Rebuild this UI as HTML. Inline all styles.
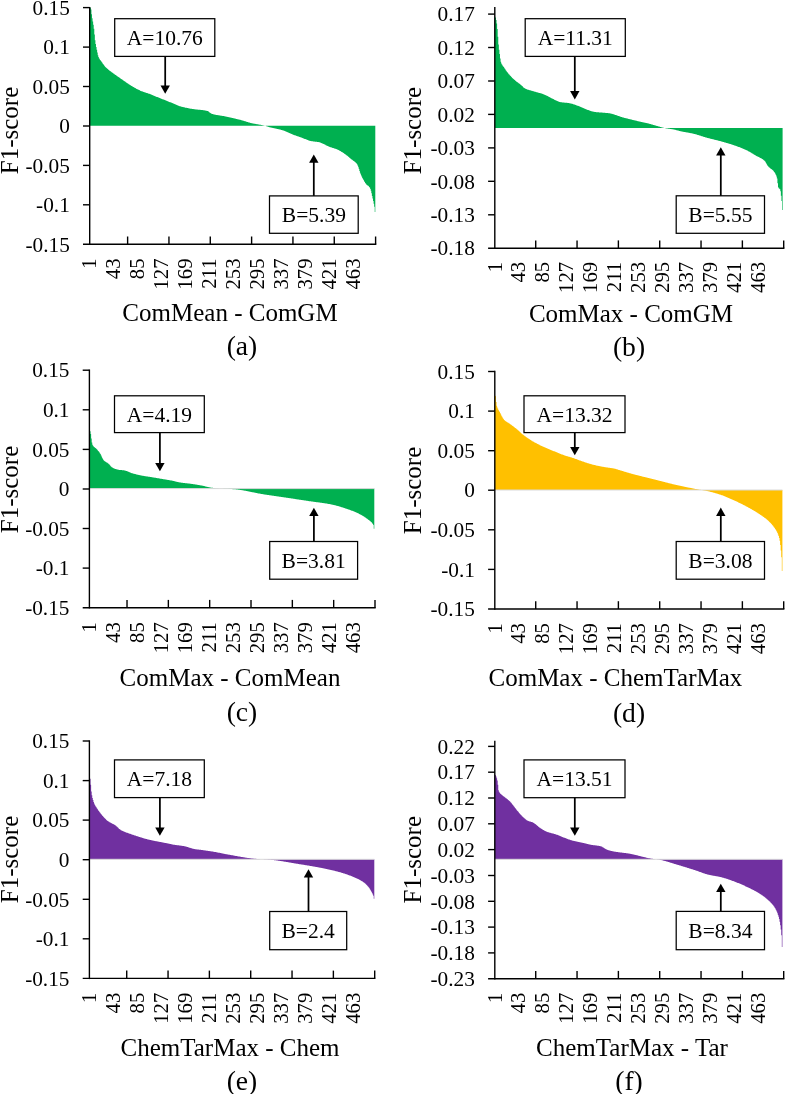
<!DOCTYPE html>
<html><head><meta charset="utf-8"><title>Figure</title>
<style>
html,body{margin:0;padding:0;background:#fff;}
body{width:785px;height:1094px;overflow:hidden;}
svg{display:block;will-change:transform;}
text{font-family:"Liberation Serif",serif;fill:#000;}
</style></head><body>
<svg width="785" height="1094" viewBox="0 0 785 1094">
<rect width="785" height="1094" fill="#fff"/>
<g id="panel-a">
<path d="M89.7,125.7V7.62H90.27V7.75H90.84V9.5H91.41V14.29H91.98V18.25H92.56V21.42H93.13V24.69H93.7V28.67H94.27V34.54H94.84V40.25H95.41V43.99H95.98V47.04H96.55V49.77H97.13V52.55H97.7V55.27H98.27V57.07H98.84V58.27H99.41V59.22H99.98V60.03H100.55V60.77H101.12V61.53H101.7V62.36H102.27V63.19H102.84V64.01H103.41V64.81H103.98V65.56H104.55V66.27H105.12V66.91H105.69V67.49H106.26V68.05H106.84V68.57H107.41V69.06H107.98V69.54H108.55V70H109.12V70.45H109.69V70.89H110.26V71.34H110.83V71.78H111.41V72.21H111.98V72.62H112.55V73.03H113.12V73.44H113.69V73.84H114.26V74.23H114.83V74.63H115.4V75.02H115.98V75.42H116.55V75.82H117.12V76.23H117.69V76.63H118.26V77.04H118.83V77.44H119.4V77.84H119.97V78.24H120.54V78.64H121.12V79.04H121.69V79.44H122.26V79.84H122.83V80.24H123.4V80.64H123.97V81.04H124.54V81.44H125.11V81.84H125.69V82.25H126.26V82.65H126.83V83.04H127.4V83.43H127.97V83.82H128.54V84.2H129.11V84.57H129.68V84.94H130.26V85.3H130.83V85.65H131.4V86.01H131.97V86.36H132.54V86.7H133.11V87.04H133.68V87.37H134.25V87.7H134.82V88.02H135.4V88.33H135.97V88.63H136.54V88.93H137.11V89.23H137.68V89.52H138.25V89.81H138.82V90.09H139.39V90.36H139.97V90.63H140.54V90.89H141.11V91.13H141.68V91.37H142.25V91.59H142.82V91.8H143.39V92H143.96V92.18H144.54V92.36H145.11V92.54H145.68V92.71H146.25V92.89H146.82V93.06H147.39V93.25H147.96V93.44H148.53V93.64H149.1V93.86H149.68V94.08H150.25V94.31H150.82V94.54H151.39V94.78H151.96V95.01H152.53V95.25H153.1V95.49H153.67V95.73H154.25V95.97H154.82V96.2H155.39V96.43H155.96V96.66H156.53V96.88H157.1V97.11H157.67V97.33H158.24V97.56H158.82V97.79H159.39V98.01H159.96V98.24H160.53V98.47H161.1V98.69H161.67V98.92H162.24V99.16H162.81V99.39H163.38V99.62H163.96V99.86H164.53V100.09H165.1V100.32H165.67V100.56H166.24V100.79H166.81V101.02H167.38V101.25H167.95V101.47H168.53V101.7H169.1V101.92H169.67V102.14H170.24V102.36H170.81V102.58H171.38V102.81H171.95V103.03H172.52V103.25H173.1V103.47H173.67V103.7H174.24V103.93H174.81V104.17H175.38V104.43H175.95V104.68H176.52V104.94H177.09V105.2H177.66V105.45H178.24V105.69H178.81V105.92H179.38V106.13H179.95V106.32H180.52V106.49H181.09V106.65H181.66V106.8H182.23V106.95H182.81V107.1H183.38V107.24H183.95V107.37H184.52V107.5H185.09V107.63H185.66V107.75H186.23V107.87H186.8V107.99H187.38V108.1H187.95V108.21H188.52V108.32H189.09V108.42H189.66V108.53H190.23V108.63H190.8V108.73H191.37V108.82H191.94V108.92H192.52V109.02H193.09V109.11H193.66V109.19H194.23V109.27H194.8V109.34H195.37V109.41H195.94V109.47H196.51V109.53H197.09V109.58H197.66V109.64H198.23V109.69H198.8V109.75H199.37V109.8H199.94V109.86H200.51V109.92H201.08V109.98H201.66V110.04H202.23V110.11H202.8V110.19H203.37V110.27H203.94V110.36H204.51V110.45H205.08V110.55H205.65V110.67H206.22V110.79H206.8V110.92H207.37V111.08H207.94V111.35H208.51V111.73H209.08V112.17H209.65V112.63H210.22V113.08H210.79V113.46H211.37V113.75H211.94V113.93H212.51V114.1H213.08V114.26H213.65V114.41H214.22V114.54H214.79V114.67H215.36V114.79H215.94V114.9H216.51V115H217.08V115.1H217.65V115.19H218.22V115.28H218.79V115.37H219.36V115.46H219.93V115.55H220.5V115.63H221.08V115.72H221.65V115.81H222.22V115.91H222.79V116.01H223.36V116.11H223.93V116.22H224.5V116.34H225.07V116.46H225.65V116.58H226.22V116.7H226.79V116.82H227.36V116.95H227.93V117.07H228.5V117.19H229.07V117.32H229.64V117.44H230.22V117.57H230.79V117.7H231.36V117.82H231.93V117.95H232.5V118.08H233.07V118.21H233.64V118.34H234.21V118.48H234.78V118.61H235.36V118.74H235.93V118.88H236.5V119.02H237.07V119.16H237.64V119.3H238.21V119.44H238.78V119.58H239.35V119.72H239.93V119.87H240.5V120.02H241.07V120.17H241.64V120.32H242.21V120.49H242.78V120.65H243.35V120.83H243.92V121H244.5V121.18H245.07V121.36H245.64V121.54H246.21V121.72H246.78V121.9H247.35V122.08H247.92V122.26H248.49V122.43H249.06V122.59H249.64V122.75H250.21V122.9H250.78V123.04H251.35V123.18H251.92V123.31H252.49V123.43H253.06V123.54H253.63V123.66H254.21V123.77H254.78V123.87H255.35V123.97H255.92V124.07H256.49V124.17H257.06V124.27H257.63V124.37H258.2V124.46H258.78V124.56H259.35V124.66H259.92V124.76H260.49V124.87H261.06V124.97H261.63V125.08H262.2V125.2H262.77V125.32H263.34V125.45H263.92V125.58H264.49V125.72H265.06V125.87H265.63V126.05H266.2V126.24H266.77V126.43H267.34V126.62H267.91V126.81H268.49V126.98H269.06V127.14H269.63V127.28H270.2V127.42H270.77V127.54H271.34V127.67H271.91V127.79H272.48V127.91H273.06V128.03H273.63V128.15H274.2V128.28H274.77V128.41H275.34V128.55H275.91V128.68H276.48V128.81H277.05V128.94H277.62V129.07H278.2V129.2H278.77V129.34H279.34V129.47H279.91V129.62H280.48V129.76H281.05V129.91H281.62V130.07H282.19V130.24H282.77V130.42H283.34V130.61H283.91V130.81H284.48V131.03H285.05V131.26H285.62V131.51H286.19V131.76H286.76V132.02H287.34V132.28H287.91V132.54H288.48V132.81H289.05V133.08H289.62V133.34H290.19V133.6H290.76V133.85H291.33V134.09H291.9V134.32H292.48V134.54H293.05V134.75H293.62V134.96H294.19V135.17H294.76V135.37H295.33V135.57H295.9V135.77H296.47V135.97H297.05V136.16H297.62V136.35H298.19V136.55H298.76V136.74H299.33V136.94H299.9V137.13H300.47V137.33H301.04V137.53H301.62V137.74H302.19V137.95H302.76V138.17H303.33V138.4H303.9V138.64H304.47V138.88H305.04V139.12H305.61V139.36H306.18V139.6H306.76V139.83H307.33V140.05H307.9V140.26H308.47V140.46H309.04V140.64H309.61V140.81H310.18V140.96H310.75V141.09H311.33V141.2H311.9V141.29H312.47V141.37H313.04V141.44H313.61V141.51H314.18V141.57H314.75V141.63H315.32V141.69H315.9V141.76H316.47V141.82H317.04V141.9H317.61V141.98H318.18V142.08H318.75V142.19H319.32V142.32H319.89V142.48H320.46V142.68H321.04V142.9H321.61V143.14H322.18V143.41H322.75V143.68H323.32V143.97H323.89V144.27H324.46V144.57H325.03V144.87H325.61V145.17H326.18V145.47H326.75V145.75H327.32V146.02H327.89V146.27H328.46V146.5H329.03V146.72H329.6V146.92H330.18V147.13H330.75V147.32H331.32V147.51H331.89V147.7H332.46V147.88H333.03V148.07H333.6V148.26H334.17V148.45H334.74V148.65H335.32V148.86H335.89V149.08H336.46V149.3H337.03V149.54H337.6V149.79H338.17V150.06H338.74V150.35H339.31V150.65H339.89V150.97H340.46V151.3H341.03V151.65H341.6V152H342.17V152.37H342.74V152.74H343.31V153.12H343.88V153.51H344.46V153.9H345.03V154.3H345.6V154.72H346.17V155.16H346.74V155.61H347.31V156.07H347.88V156.54H348.45V157.02H349.02V157.5H349.6V157.98H350.17V158.47H350.74V158.95H351.31V159.42H351.88V159.86H352.45V160.27H353.02V160.67H353.59V161.08H354.17V161.51H354.74V161.98H355.31V162.5H355.88V163.08H356.45V163.75H357.02V164.51H357.59V165.63H358.16V167.23H358.74V169.08H359.31V171H359.88V172.77H360.45V174.21H361.02V175.48H361.59V176.72H362.16V177.91H362.73V179.04H363.3V180.12H363.88V181.13H364.45V182.08H365.02V182.95H365.59V183.74H366.16V184.42H366.73V184.95H367.3V185.4H367.87V185.84H368.45V186.32H369.02V186.92H369.59V187.7H370.16V188.91H370.73V190.87H371.3V193.31H371.87V195.93H372.44V198.46H373.02V201.02H373.59V203.78H374.16V206.78H374.73V212H375.3V125.7Z" fill="#00B050"/>
<g stroke="#000" stroke-width="1.4" fill="none">
<line x1="89.7" y1="6.9" x2="89.7" y2="245"/>
<line x1="83" y1="244.3" x2="376.3" y2="244.3"/>
<line x1="83" y1="7.6" x2="89.7" y2="7.6"/>
<line x1="83" y1="47.1" x2="89.7" y2="47.1"/>
<line x1="83" y1="86.5" x2="89.7" y2="86.5"/>
<line x1="83" y1="126" x2="89.7" y2="126"/>
<line x1="83" y1="165.4" x2="89.7" y2="165.4"/>
<line x1="83" y1="204.8" x2="89.7" y2="204.8"/>
<line x1="375.6" y1="236.5" x2="375.6" y2="244.3"/>
<line x1="334.27" y1="236.5" x2="334.27" y2="244.3"/>
<line x1="292.94" y1="236.5" x2="292.94" y2="244.3"/>
<line x1="251.61" y1="236.5" x2="251.61" y2="244.3"/>
<line x1="210.28" y1="236.5" x2="210.28" y2="244.3"/>
<line x1="168.95" y1="236.5" x2="168.95" y2="244.3"/>
<line x1="127.62" y1="236.5" x2="127.62" y2="244.3"/>
</g>
<text x="69.8" y="14.8" font-size="21.3" text-anchor="end">0.15</text>
<text x="69.8" y="54.3" font-size="21.3" text-anchor="end">0.1</text>
<text x="69.8" y="93.7" font-size="21.3" text-anchor="end">0.05</text>
<text x="69.8" y="133.2" font-size="21.3" text-anchor="end">0</text>
<text x="69.8" y="172.6" font-size="21.3" text-anchor="end">-0.05</text>
<text x="69.8" y="212" font-size="21.3" text-anchor="end">-0.1</text>
<text x="69.8" y="251.5" font-size="21.3" text-anchor="end">-0.15</text>
<text transform="translate(96.4,258.5) rotate(-90)" font-size="20.7" text-anchor="end">1</text>
<text transform="translate(120.37,258.5) rotate(-90)" font-size="20.7" text-anchor="end">43</text>
<text transform="translate(144.34,258.5) rotate(-90)" font-size="20.7" text-anchor="end">85</text>
<text transform="translate(168.31,258.5) rotate(-90)" font-size="20.7" text-anchor="end">127</text>
<text transform="translate(192.28,258.5) rotate(-90)" font-size="20.7" text-anchor="end">169</text>
<text transform="translate(216.25,258.5) rotate(-90)" font-size="20.7" text-anchor="end">211</text>
<text transform="translate(240.22,258.5) rotate(-90)" font-size="20.7" text-anchor="end">253</text>
<text transform="translate(264.19,258.5) rotate(-90)" font-size="20.7" text-anchor="end">295</text>
<text transform="translate(288.16,258.5) rotate(-90)" font-size="20.7" text-anchor="end">337</text>
<text transform="translate(312.13,258.5) rotate(-90)" font-size="20.7" text-anchor="end">379</text>
<text transform="translate(336.1,258.5) rotate(-90)" font-size="20.7" text-anchor="end">421</text>
<text transform="translate(360.07,258.5) rotate(-90)" font-size="20.7" text-anchor="end">463</text>
<text transform="translate(17.7,130.5) rotate(-90)" font-size="25" text-anchor="middle">F1-score</text>
<text x="230" y="320.6" font-size="25" text-anchor="middle">ComMean - ComGM</text>
<text x="242" y="355.1" font-size="27.6" text-anchor="middle">(a)</text>
<rect x="114.7" y="18.7" width="100.1" height="37.7" fill="#fff" stroke="#000" stroke-width="1.25"/>
<text x="164.75" y="44.95" font-size="21.5" text-anchor="middle">A=10.76</text>
<line x1="165.2" y1="56.4" x2="165.2" y2="86.5" stroke="#000" stroke-width="1.75"/>
<path d="M160.5,85.5 L169.9,85.5 L165.2,93.8Z" fill="#000"/>
<rect x="269.5" y="195.9" width="88.7" height="37.4" fill="#fff" stroke="#000" stroke-width="1.25"/>
<text x="313.85" y="222" font-size="21.5" text-anchor="middle">B=5.39</text>
<line x1="313.8" y1="195.9" x2="313.8" y2="161.8" stroke="#000" stroke-width="1.75"/>
<path d="M309.1,162.8 L318.5,162.8 L313.8,154.5Z" fill="#000"/>
</g>
<g id="panel-b">
<path d="M494.8,127.9V16.67H495.38V17.67H495.95V20H496.53V23.42H497.1V29.06H497.68V36.67H498.25V44.44H498.83V49.71H499.4V54.09H499.98V58.41H500.56V61.75H501.13V63.39H501.71V64.55H502.28V65.46H502.86V66.23H503.43V66.99H504.01V67.85H504.59V68.72H505.16V69.57H505.74V70.4H506.31V71.2H506.89V71.99H507.46V72.74H508.04V73.47H508.61V74.17H509.19V74.84H509.77V75.48H510.34V76.12H510.92V76.73H511.49V77.33H512.07V77.91H512.64V78.47H513.22V79.02H513.79V79.55H514.37V80.07H514.95V80.57H515.52V81.06H516.1V81.52H516.67V81.95H517.25V82.37H517.82V82.77H518.4V83.18H518.98V83.59H519.55V84.01H520.13V84.45H520.7V84.93H521.28V85.46H521.85V86.01H522.43V86.58H523V87.13H523.58V87.63H524.16V88.07H524.73V88.41H525.31V88.69H525.88V88.95H526.46V89.19H527.03V89.42H527.61V89.63H528.18V89.82H528.76V90.01H529.34V90.19H529.91V90.35H530.49V90.52H531.06V90.68H531.64V90.83H532.21V90.99H532.79V91.15H533.37V91.32H533.94V91.49H534.52V91.66H535.09V91.84H535.67V92H536.24V92.16H536.82V92.32H537.39V92.47H537.97V92.63H538.55V92.78H539.12V92.94H539.7V93.09H540.27V93.26H540.85V93.42H541.42V93.6H542V93.78H542.57V93.97H543.15V94.18H543.73V94.4H544.3V94.63H544.88V94.89H545.45V95.15H546.03V95.43H546.6V95.72H547.18V96.02H547.76V96.33H548.33V96.64H548.91V96.95H549.48V97.26H550.06V97.58H550.63V97.89H551.21V98.2H551.78V98.5H552.36V98.79H552.94V99.07H553.51V99.35H554.09V99.63H554.66V99.92H555.24V100.22H555.81V100.52H556.39V100.81H556.96V101.09H557.54V101.36H558.12V101.6H558.69V101.81H559.27V101.98H559.84V102.11H560.42V102.2H560.99V102.29H561.57V102.37H562.15V102.43H562.72V102.49H563.3V102.54H563.87V102.59H564.45V102.64H565.02V102.69H565.6V102.73H566.17V102.79H566.75V102.84H567.33V102.91H567.9V102.98H568.48V103.06H569.05V103.16H569.63V103.27H570.2V103.39H570.78V103.53H571.35V103.68H571.93V103.85H572.51V104.02H573.08V104.2H573.66V104.39H574.23V104.58H574.81V104.78H575.38V104.99H575.96V105.2H576.54V105.41H577.11V105.63H577.69V105.84H578.26V106.06H578.84V106.27H579.41V106.49H579.99V106.73H580.56V106.98H581.14V107.23H581.72V107.5H582.29V107.76H582.87V108.02H583.44V108.28H584.02V108.52H584.59V108.75H585.17V108.98H585.74V109.2H586.32V109.43H586.9V109.66H587.47V109.89H588.05V110.12H588.62V110.34H589.2V110.56H589.77V110.77H590.35V110.97H590.93V111.15H591.5V111.32H592.08V111.48H592.65V111.62H593.23V111.73H593.8V111.83H594.38V111.92H594.95V111.99H595.53V112.07H596.11V112.13H596.68V112.2H597.26V112.25H597.83V112.31H598.41V112.36H598.98V112.4H599.56V112.45H600.13V112.49H600.71V112.53H601.29V112.57H601.86V112.61H602.44V112.65H603.01V112.69H603.59V112.74H604.16V112.78H604.74V112.83H605.32V112.88H605.89V112.93H606.47V112.99H607.04V113.06H607.62V113.12H608.19V113.2H608.77V113.28H609.34V113.37H609.92V113.47H610.5V113.59H611.07V113.72H611.65V113.86H612.22V114.02H612.8V114.18H613.37V114.35H613.95V114.53H614.52V114.72H615.1V114.91H615.68V115.1H616.25V115.3H616.83V115.5H617.4V115.7H617.98V115.91H618.55V116.11H619.13V116.31H619.71V116.51H620.28V116.7H620.86V116.89H621.43V117.07H622.01V117.24H622.58V117.41H623.16V117.57H623.73V117.72H624.31V117.88H624.89V118.03H625.46V118.18H626.04V118.33H626.61V118.48H627.19V118.62H627.76V118.77H628.34V118.91H628.91V119.06H629.49V119.2H630.07V119.34H630.64V119.48H631.22V119.62H631.79V119.76H632.37V119.9H632.94V120.04H633.52V120.18H634.1V120.31H634.67V120.45H635.25V120.59H635.82V120.73H636.4V120.86H636.97V121H637.55V121.13H638.12V121.26H638.7V121.38H639.28V121.51H639.85V121.64H640.43V121.76H641V121.89H641.58V122.01H642.15V122.14H642.73V122.27H643.3V122.39H643.88V122.52H644.46V122.65H645.03V122.78H645.61V122.91H646.18V123.05H646.76V123.19H647.33V123.33H647.91V123.47H648.49V123.62H649.06V123.77H649.64V123.93H650.21V124.09H650.79V124.26H651.36V124.43H651.94V124.6H652.51V124.77H653.09V124.94H653.67V125.11H654.24V125.29H654.82V125.46H655.39V125.62H655.97V125.79H656.54V125.95H657.12V126.12H657.69V126.29H658.27V126.45H658.85V126.62H659.42V126.79H660V126.96H660.57V127.12H661.15V127.28H661.72V127.43H662.3V127.58H662.88V127.71H663.45V127.84H664.03V127.96H664.6V128.08H665.18V128.18H665.75V128.28H666.33V128.38H666.9V128.47H667.48V128.56H668.06V128.64H668.63V128.73H669.21V128.81H669.78V128.9H670.36V128.98H670.93V129.07H671.51V129.16H672.08V129.26H672.66V129.36H673.24V129.47H673.81V129.58H674.39V129.7H674.96V129.84H675.54V129.99H676.11V130.14H676.69V130.3H677.27V130.46H677.84V130.62H678.42V130.78H678.99V130.93H679.57V131.07H680.14V131.2H680.72V131.32H681.29V131.44H681.87V131.56H682.45V131.67H683.02V131.78H683.6V131.88H684.17V131.99H684.75V132.09H685.32V132.19H685.9V132.29H686.47V132.4H687.05V132.5H687.63V132.6H688.2V132.7H688.78V132.81H689.35V132.91H689.93V133.02H690.5V133.14H691.08V133.25H691.66V133.37H692.23V133.5H692.81V133.63H693.38V133.76H693.96V133.91H694.53V134.06H695.11V134.21H695.68V134.37H696.26V134.54H696.84V134.71H697.41V134.88H697.99V135.06H698.56V135.24H699.14V135.42H699.71V135.6H700.29V135.79H700.86V135.97H701.44V136.16H702.02V136.34H702.59V136.52H703.17V136.71H703.74V136.88H704.32V137.06H704.89V137.23H705.47V137.4H706.05V137.57H706.62V137.73H707.2V137.89H707.77V138.04H708.35V138.19H708.92V138.34H709.5V138.49H710.07V138.63H710.65V138.78H711.23V138.92H711.8V139.06H712.38V139.21H712.95V139.35H713.53V139.49H714.1V139.63H714.68V139.77H715.25V139.92H715.83V140.06H716.41V140.2H716.98V140.35H717.56V140.5H718.13V140.65H718.71V140.8H719.28V140.96H719.86V141.11H720.44V141.27H721.01V141.43H721.59V141.59H722.16V141.75H722.74V141.91H723.31V142.07H723.89V142.24H724.46V142.4H725.04V142.56H725.62V142.73H726.19V142.9H726.77V143.07H727.34V143.24H727.92V143.41H728.49V143.58H729.07V143.76H729.64V143.94H730.22V144.12H730.8V144.3H731.37V144.49H731.95V144.68H732.52V144.87H733.1V145.06H733.67V145.26H734.25V145.46H734.83V145.66H735.4V145.86H735.98V146.06H736.55V146.27H737.13V146.48H737.7V146.69H738.28V146.9H738.85V147.12H739.43V147.34H740.01V147.56H740.58V147.79H741.16V148.02H741.73V148.25H742.31V148.49H742.88V148.73H743.46V148.97H744.03V149.22H744.61V149.48H745.19V149.74H745.76V150H746.34V150.27H746.91V150.55H747.49V150.83H748.06V151.13H748.64V151.45H749.22V151.77H749.79V152.1H750.37V152.44H750.94V152.78H751.52V153.13H752.09V153.49H752.67V153.84H753.24V154.19H753.82V154.55H754.4V154.9H754.97V155.24H755.55V155.59H756.12V155.92H756.7V156.24H757.27V156.53H757.85V156.82H758.42V157.1H759V157.37H759.58V157.65H760.15V157.94H760.73V158.25H761.3V158.57H761.88V158.91H762.45V159.29H763.03V159.7H763.61V160.15H764.18V160.66H764.76V161.35H765.33V162.22H765.91V163.19H766.48V164.2H767.06V165.17H767.63V166.03H768.21V166.72H768.79V167.29H769.36V167.78H769.94V168.23H770.51V168.65H771.09V169.08H771.66V169.53H772.24V170.04H772.81V170.62H773.39V171.3H773.97V172.04H774.54V172.87H775.12V173.84H775.69V175.04H776.27V176.52H776.84V178.5H777.42V183.24H778V187.16H778.57V188.13H779.15V188.65H779.72V189.31H780.3V191.16H780.87V195.8H781.45V200.91H782.02V210H782.6V127.9Z" fill="#00B050"/>
<g stroke="#000" stroke-width="1.4" fill="none">
<line x1="494.8" y1="7.1" x2="494.8" y2="248.9"/>
<line x1="488.1" y1="248.2" x2="784.4" y2="248.2"/>
<line x1="488.1" y1="14.1" x2="494.8" y2="14.1"/>
<line x1="488.1" y1="47.5" x2="494.8" y2="47.5"/>
<line x1="488.1" y1="81" x2="494.8" y2="81"/>
<line x1="488.1" y1="114.4" x2="494.8" y2="114.4"/>
<line x1="488.1" y1="147.9" x2="494.8" y2="147.9"/>
<line x1="488.1" y1="181.3" x2="494.8" y2="181.3"/>
<line x1="488.1" y1="214.8" x2="494.8" y2="214.8"/>
<line x1="783.7" y1="240.4" x2="783.7" y2="248.2"/>
<line x1="742.37" y1="240.4" x2="742.37" y2="248.2"/>
<line x1="701.04" y1="240.4" x2="701.04" y2="248.2"/>
<line x1="659.71" y1="240.4" x2="659.71" y2="248.2"/>
<line x1="618.38" y1="240.4" x2="618.38" y2="248.2"/>
<line x1="577.05" y1="240.4" x2="577.05" y2="248.2"/>
<line x1="535.72" y1="240.4" x2="535.72" y2="248.2"/>
</g>
<text x="474.9" y="21.3" font-size="21.3" text-anchor="end">0.17</text>
<text x="474.9" y="54.7" font-size="21.3" text-anchor="end">0.12</text>
<text x="474.9" y="88.2" font-size="21.3" text-anchor="end">0.07</text>
<text x="474.9" y="121.6" font-size="21.3" text-anchor="end">0.02</text>
<text x="474.9" y="155.1" font-size="21.3" text-anchor="end">-0.03</text>
<text x="474.9" y="188.5" font-size="21.3" text-anchor="end">-0.08</text>
<text x="474.9" y="222" font-size="21.3" text-anchor="end">-0.13</text>
<text x="474.9" y="255.4" font-size="21.3" text-anchor="end">-0.18</text>
<text transform="translate(501.5,261.9) rotate(-90)" font-size="20.7" text-anchor="end">1</text>
<text transform="translate(525.47,261.9) rotate(-90)" font-size="20.7" text-anchor="end">43</text>
<text transform="translate(549.44,261.9) rotate(-90)" font-size="20.7" text-anchor="end">85</text>
<text transform="translate(573.41,261.9) rotate(-90)" font-size="20.7" text-anchor="end">127</text>
<text transform="translate(597.38,261.9) rotate(-90)" font-size="20.7" text-anchor="end">169</text>
<text transform="translate(621.35,261.9) rotate(-90)" font-size="20.7" text-anchor="end">211</text>
<text transform="translate(645.32,261.9) rotate(-90)" font-size="20.7" text-anchor="end">253</text>
<text transform="translate(669.29,261.9) rotate(-90)" font-size="20.7" text-anchor="end">295</text>
<text transform="translate(693.26,261.9) rotate(-90)" font-size="20.7" text-anchor="end">337</text>
<text transform="translate(717.23,261.9) rotate(-90)" font-size="20.7" text-anchor="end">379</text>
<text transform="translate(741.2,261.9) rotate(-90)" font-size="20.7" text-anchor="end">421</text>
<text transform="translate(765.17,261.9) rotate(-90)" font-size="20.7" text-anchor="end">463</text>
<text transform="translate(420.7,130.6) rotate(-90)" font-size="25" text-anchor="middle">F1-score</text>
<text x="631" y="321.5" font-size="25" text-anchor="middle">ComMax - ComGM</text>
<text x="629" y="355.6" font-size="27.6" text-anchor="middle">(b)</text>
<rect x="525.2" y="18.7" width="100.1" height="37.7" fill="#fff" stroke="#000" stroke-width="1.25"/>
<text x="575.25" y="44.95" font-size="21.5" text-anchor="middle">A=11.31</text>
<line x1="574.8" y1="56.4" x2="574.8" y2="92.1" stroke="#000" stroke-width="1.75"/>
<path d="M570.1,91.1 L579.5,91.1 L574.8,99.4Z" fill="#000"/>
<rect x="676.2" y="195.8" width="88.3" height="37.5" fill="#fff" stroke="#000" stroke-width="1.25"/>
<text x="720.35" y="221.95" font-size="21.5" text-anchor="middle">B=5.55</text>
<line x1="720.8" y1="195.8" x2="720.8" y2="154.6" stroke="#000" stroke-width="1.75"/>
<path d="M716.1,155.6 L725.5,155.6 L720.8,147.3Z" fill="#000"/>
</g>
<g id="panel-c">
<path d="M89.4,488.6V430.8H89.97V431.16H90.54V434.03H91.11V438.38H91.68V442.54H92.25V444.86H92.82V445.77H93.39V446.46H93.96V447.01H94.53V447.47H95.1V447.9H95.67V448.36H96.24V448.91H96.81V449.56H97.38V450.21H97.95V450.89H98.52V451.6H99.09V452.35H99.66V453.16H100.23V454.12H100.8V455.25H101.37V456.46H101.94V457.67H102.51V458.81H103.08V459.79H103.65V460.53H104.21V461.05H104.78V461.47H105.35V461.83H105.92V462.15H106.49V462.47H107.06V462.8H107.63V463.19H108.2V463.65H108.77V464.21H109.34V464.85H109.91V465.51H110.48V466.16H111.05V466.75H111.62V467.24H112.19V467.6H112.76V467.9H113.33V468.19H113.9V468.45H114.47V468.7H115.04V468.92H115.61V469.12H116.18V469.3H116.75V469.46H117.32V469.6H117.89V469.71H118.46V469.81H119.03V469.89H119.6V469.96H120.17V470.02H120.74V470.07H121.31V470.12H121.88V470.17H122.45V470.23H123.02V470.29H123.59V470.37H124.16V470.45H124.73V470.56H125.3V470.71H125.87V470.89H126.44V471.1H127.01V471.32H127.58V471.57H128.15V471.82H128.72V472.07H129.29V472.31H129.86V472.55H130.43V472.77H131V472.96H131.57V473.14H132.13V473.31H132.7V473.47H133.27V473.63H133.84V473.79H134.41V473.95H134.98V474.1H135.55V474.25H136.12V474.4H136.69V474.54H137.26V474.68H137.83V474.81H138.4V474.95H138.97V475.07H139.54V475.2H140.11V475.32H140.68V475.43H141.25V475.55H141.82V475.65H142.39V475.76H142.96V475.86H143.53V475.95H144.1V476.05H144.67V476.14H145.24V476.23H145.81V476.32H146.38V476.4H146.95V476.49H147.52V476.57H148.09V476.66H148.66V476.74H149.23V476.83H149.8V476.92H150.37V477.01H150.94V477.1H151.51V477.2H152.08V477.29H152.65V477.39H153.22V477.49H153.79V477.58H154.36V477.68H154.93V477.78H155.5V477.87H156.07V477.97H156.64V478.07H157.21V478.16H157.78V478.26H158.35V478.36H158.92V478.46H159.49V478.56H160.06V478.65H160.62V478.75H161.19V478.85H161.76V478.94H162.33V479.04H162.9V479.13H163.47V479.23H164.04V479.32H164.61V479.42H165.18V479.51H165.75V479.61H166.32V479.7H166.89V479.8H167.46V479.9H168.03V480H168.6V480.1H169.17V480.2H169.74V480.3H170.31V480.41H170.88V480.51H171.45V480.62H172.02V480.74H172.59V480.87H173.16V480.99H173.73V481.12H174.3V481.25H174.87V481.39H175.44V481.52H176.01V481.65H176.58V481.78H177.15V481.91H177.72V482.04H178.29V482.16H178.86V482.27H179.43V482.38H180V482.48H180.57V482.58H181.14V482.66H181.71V482.74H182.28V482.82H182.85V482.89H183.42V482.96H183.99V483.03H184.56V483.09H185.13V483.16H185.7V483.22H186.27V483.28H186.84V483.34H187.41V483.4H187.98V483.46H188.55V483.53H189.12V483.6H189.68V483.66H190.25V483.74H190.82V483.82H191.39V483.89H191.96V483.98H192.53V484.06H193.1V484.14H193.67V484.23H194.24V484.32H194.81V484.41H195.38V484.5H195.95V484.59H196.52V484.69H197.09V484.78H197.66V484.88H198.23V484.98H198.8V485.08H199.37V485.18H199.94V485.28H200.51V485.38H201.08V485.49H201.65V485.6H202.22V485.72H202.79V485.84H203.36V485.97H203.93V486.11H204.5V486.24H205.07V486.38H205.64V486.52H206.21V486.66H206.78V486.79H207.35V486.93H207.92V487.06H208.49V487.18H209.06V487.31H209.63V487.42H210.2V487.53H210.77V487.63H211.34V487.72H211.91V487.8H212.48V487.87H213.05V487.93H213.62V487.99H214.19V488.04H214.76V488.1H215.33V488.14H215.9V488.19H216.47V488.23H217.04V488.28H217.6V488.31H218.17V488.35H218.74V488.39H219.31V488.42H219.88V488.46H220.45V488.49H221.02V488.52H221.59V488.55H222.16V488.58H222.73V488.61H223.3V488.64H223.87V488.66H224.44V488.69H225.01V488.72H225.58V488.74H226.15V488.77H226.72V488.8H227.29V488.83H227.86V488.86H228.43V488.89H229V488.92H229.57V488.95H230.14V488.98H230.71V489.02H231.28V489.05H231.85V489.09H232.42V489.13H232.99V489.17H233.56V489.21H234.13V489.26H234.7V489.31H235.27V489.36H235.84V489.41H236.41V489.47H236.98V489.53H237.55V489.6H238.12V489.67H238.69V489.74H239.26V489.82H239.83V489.9H240.4V489.98H240.97V490.07H241.54V490.16H242.11V490.25H242.68V490.35H243.25V490.45H243.82V490.55H244.39V490.65H244.96V490.76H245.53V490.87H246.09V490.98H246.66V491.09H247.23V491.2H247.8V491.32H248.37V491.43H248.94V491.55H249.51V491.66H250.08V491.78H250.65V491.9H251.22V492.02H251.79V492.13H252.36V492.25H252.93V492.37H253.5V492.49H254.07V492.61H254.64V492.72H255.21V492.84H255.78V492.95H256.35V493.07H256.92V493.18H257.49V493.29H258.06V493.4H258.63V493.51H259.2V493.61H259.77V493.72H260.34V493.82H260.91V493.92H261.48V494.01H262.05V494.11H262.62V494.2H263.19V494.29H263.76V494.38H264.33V494.47H264.9V494.56H265.47V494.64H266.04V494.73H266.61V494.82H267.18V494.9H267.75V494.99H268.32V495.07H268.89V495.16H269.46V495.24H270.03V495.33H270.6V495.41H271.17V495.49H271.74V495.58H272.31V495.66H272.88V495.74H273.45V495.82H274.02V495.9H274.59V495.99H275.15V496.07H275.72V496.15H276.29V496.23H276.86V496.31H277.43V496.39H278V496.48H278.57V496.56H279.14V496.64H279.71V496.72H280.28V496.8H280.85V496.89H281.42V496.97H281.99V497.05H282.56V497.14H283.13V497.22H283.7V497.3H284.27V497.39H284.84V497.47H285.41V497.56H285.98V497.65H286.55V497.73H287.12V497.82H287.69V497.9H288.26V497.99H288.83V498.08H289.4V498.16H289.97V498.25H290.54V498.34H291.11V498.43H291.68V498.51H292.25V498.6H292.82V498.69H293.39V498.78H293.96V498.86H294.53V498.95H295.1V499.04H295.67V499.13H296.24V499.21H296.81V499.3H297.38V499.39H297.95V499.48H298.52V499.56H299.09V499.65H299.66V499.74H300.23V499.83H300.8V499.92H301.37V500H301.94V500.09H302.51V500.18H303.07V500.26H303.64V500.35H304.21V500.44H304.78V500.53H305.35V500.61H305.92V500.7H306.49V500.79H307.06V500.87H307.63V500.96H308.2V501.04H308.77V501.13H309.34V501.21H309.91V501.29H310.48V501.37H311.05V501.45H311.62V501.53H312.19V501.61H312.76V501.69H313.33V501.76H313.9V501.84H314.47V501.91H315.04V501.99H315.61V502.06H316.18V502.14H316.75V502.21H317.32V502.29H317.89V502.36H318.46V502.44H319.03V502.52H319.6V502.59H320.17V502.67H320.74V502.75H321.31V502.83H321.88V502.91H322.45V502.99H323.02V503.07H323.59V503.16H324.16V503.25H324.73V503.33H325.3V503.42H325.87V503.51H326.44V503.61H327.01V503.7H327.58V503.8H328.15V503.9H328.72V504H329.29V504.11H329.86V504.21H330.43V504.32H331V504.44H331.56V504.55H332.13V504.68H332.7V504.8H333.27V504.93H333.84V505.07H334.41V505.21H334.98V505.35H335.55V505.5H336.12V505.65H336.69V505.8H337.26V505.96H337.83V506.12H338.4V506.29H338.97V506.45H339.54V506.62H340.11V506.79H340.68V506.97H341.25V507.15H341.82V507.33H342.39V507.51H342.96V507.69H343.53V507.87H344.1V508.06H344.67V508.25H345.24V508.44H345.81V508.63H346.38V508.82H346.95V509.01H347.52V509.21H348.09V509.4H348.66V509.6H349.23V509.8H349.8V510.01H350.37V510.22H350.94V510.43H351.51V510.65H352.08V510.87H352.65V511.09H353.22V511.32H353.79V511.56H354.36V511.79H354.93V512.04H355.5V512.29H356.07V512.54H356.64V512.8H357.21V513.07H357.78V513.34H358.35V513.62H358.92V513.9H359.49V514.19H360.05V514.49H360.62V514.8H361.19V515.11H361.76V515.44H362.33V515.77H362.9V516.11H363.47V516.47H364.04V516.83H364.61V517.21H365.18V517.59H365.75V517.99H366.32V518.4H366.89V518.82H367.46V519.26H368.03V519.69H368.6V520.12H369.17V520.55H369.74V520.99H370.31V521.47H370.88V522H371.45V522.6H372.02V523.27H372.59V524.03H373.16V524.91H373.73V528.8H374.3V488.6Z" fill="#00B050"/>
<line x1="89.4" y1="488.6" x2="374.3" y2="488.6" stroke="#d9d9d9" stroke-width="1"/>
<g stroke="#000" stroke-width="1.4" fill="none">
<line x1="89.4" y1="369.5" x2="89.4" y2="608.4"/>
<line x1="82.7" y1="607.7" x2="375.7" y2="607.7"/>
<line x1="82.7" y1="370.2" x2="89.4" y2="370.2"/>
<line x1="82.7" y1="409.8" x2="89.4" y2="409.8"/>
<line x1="82.7" y1="449.4" x2="89.4" y2="449.4"/>
<line x1="82.7" y1="489" x2="89.4" y2="489"/>
<line x1="82.7" y1="528.5" x2="89.4" y2="528.5"/>
<line x1="82.7" y1="568.1" x2="89.4" y2="568.1"/>
<line x1="375" y1="599.9" x2="375" y2="607.7"/>
<line x1="333.67" y1="599.9" x2="333.67" y2="607.7"/>
<line x1="292.34" y1="599.9" x2="292.34" y2="607.7"/>
<line x1="251.01" y1="599.9" x2="251.01" y2="607.7"/>
<line x1="209.68" y1="599.9" x2="209.68" y2="607.7"/>
<line x1="168.35" y1="599.9" x2="168.35" y2="607.7"/>
<line x1="127.02" y1="599.9" x2="127.02" y2="607.7"/>
</g>
<text x="69.5" y="377.4" font-size="21.3" text-anchor="end">0.15</text>
<text x="69.5" y="417" font-size="21.3" text-anchor="end">0.1</text>
<text x="69.5" y="456.6" font-size="21.3" text-anchor="end">0.05</text>
<text x="69.5" y="496.2" font-size="21.3" text-anchor="end">0</text>
<text x="69.5" y="535.7" font-size="21.3" text-anchor="end">-0.05</text>
<text x="69.5" y="575.3" font-size="21.3" text-anchor="end">-0.1</text>
<text x="69.5" y="614.9" font-size="21.3" text-anchor="end">-0.15</text>
<text transform="translate(96.1,622.2) rotate(-90)" font-size="20.7" text-anchor="end">1</text>
<text transform="translate(120.07,622.2) rotate(-90)" font-size="20.7" text-anchor="end">43</text>
<text transform="translate(144.04,622.2) rotate(-90)" font-size="20.7" text-anchor="end">85</text>
<text transform="translate(168.01,622.2) rotate(-90)" font-size="20.7" text-anchor="end">127</text>
<text transform="translate(191.98,622.2) rotate(-90)" font-size="20.7" text-anchor="end">169</text>
<text transform="translate(215.95,622.2) rotate(-90)" font-size="20.7" text-anchor="end">211</text>
<text transform="translate(239.92,622.2) rotate(-90)" font-size="20.7" text-anchor="end">253</text>
<text transform="translate(263.89,622.2) rotate(-90)" font-size="20.7" text-anchor="end">295</text>
<text transform="translate(287.86,622.2) rotate(-90)" font-size="20.7" text-anchor="end">337</text>
<text transform="translate(311.83,622.2) rotate(-90)" font-size="20.7" text-anchor="end">379</text>
<text transform="translate(335.8,622.2) rotate(-90)" font-size="20.7" text-anchor="end">421</text>
<text transform="translate(359.77,622.2) rotate(-90)" font-size="20.7" text-anchor="end">463</text>
<text transform="translate(17.7,489.5) rotate(-90)" font-size="25" text-anchor="middle">F1-score</text>
<text x="230" y="685.7" font-size="25" text-anchor="middle">ComMax - ComMean</text>
<text x="242" y="721.2" font-size="27.6" text-anchor="middle">(c)</text>
<rect x="114.5" y="395.8" width="89.8" height="36.8" fill="#fff" stroke="#000" stroke-width="1.25"/>
<text x="159.4" y="421.6" font-size="21.5" text-anchor="middle">A=4.19</text>
<line x1="159.9" y1="432.6" x2="159.9" y2="463.9" stroke="#000" stroke-width="1.75"/>
<path d="M155.2,462.9 L164.6,462.9 L159.9,471.2Z" fill="#000"/>
<rect x="269.7" y="541.5" width="87.9" height="37.7" fill="#fff" stroke="#000" stroke-width="1.25"/>
<text x="313.65" y="567.75" font-size="21.5" text-anchor="middle">B=3.81</text>
<line x1="313.9" y1="541.5" x2="313.9" y2="515.1" stroke="#000" stroke-width="1.75"/>
<path d="M309.2,516.1 L318.6,516.1 L313.9,507.8Z" fill="#000"/>
</g>
<g id="panel-d">
<path d="M494.8,490V395.8H495.38V396.26H495.95V401.96H496.53V405.69H497.1V407.46H497.68V408.82H498.25V409.91H498.83V410.89H499.4V411.89H499.98V413.04H500.55V414.22H501.13V415.4H501.7V416.54H502.28V417.6H502.85V418.55H503.43V419.36H504V419.99H504.58V420.53H505.15V421H505.73V421.43H506.3V421.81H506.88V422.17H507.45V422.52H508.03V422.86H508.6V423.22H509.18V423.6H509.76V424H510.33V424.42H510.91V424.85H511.48V425.27H512.06V425.69H512.63V426.12H513.21V426.55H513.78V426.99H514.36V427.43H514.93V427.88H515.51V428.33H516.08V428.79H516.66V429.27H517.23V429.76H517.81V430.27H518.38V430.79H518.96V431.32H519.53V431.85H520.11V432.37H520.68V432.89H521.26V433.4H521.83V433.9H522.41V434.38H522.98V434.83H523.56V435.28H524.14V435.72H524.71V436.15H525.29V436.58H525.86V436.99H526.44V437.41H527.01V437.81H527.59V438.21H528.16V438.6H528.74V438.99H529.31V439.36H529.89V439.74H530.46V440.1H531.04V440.45H531.61V440.8H532.19V441.14H532.76V441.48H533.34V441.81H533.91V442.13H534.49V442.45H535.06V442.76H535.64V443.07H536.21V443.37H536.79V443.67H537.36V443.97H537.94V444.26H538.52V444.55H539.09V444.84H539.67V445.13H540.24V445.41H540.82V445.69H541.39V445.96H541.97V446.23H542.54V446.5H543.12V446.77H543.69V447.03H544.27V447.29H544.84V447.55H545.42V447.8H545.99V448.06H546.57V448.31H547.14V448.56H547.72V448.8H548.29V449.05H548.87V449.29H549.44V449.53H550.02V449.76H550.59V449.99H551.17V450.22H551.74V450.45H552.32V450.68H552.9V450.91H553.47V451.13H554.05V451.36H554.62V451.59H555.2V451.81H555.77V452.04H556.35V452.27H556.92V452.51H557.5V452.75H558.07V452.98H558.65V453.22H559.22V453.46H559.8V453.7H560.37V453.94H560.95V454.17H561.52V454.4H562.1V454.62H562.67V454.84H563.25V455.06H563.82V455.26H564.4V455.46H564.97V455.65H565.55V455.84H566.12V456.01H566.7V456.19H567.28V456.35H567.85V456.52H568.43V456.68H569V456.85H569.58V457.01H570.15V457.18H570.73V457.34H571.3V457.52H571.88V457.7H572.45V457.88H573.03V458.07H573.6V458.27H574.18V458.47H574.75V458.68H575.33V458.89H575.9V459.1H576.48V459.31H577.05V459.52H577.63V459.74H578.2V459.95H578.78V460.17H579.35V460.38H579.93V460.59H580.5V460.79H581.08V460.99H581.66V461.2H582.23V461.4H582.81V461.6H583.38V461.81H583.96V462.01H584.53V462.21H585.11V462.41H585.68V462.61H586.26V462.8H586.83V462.99H587.41V463.18H587.98V463.36H588.56V463.54H589.13V463.71H589.71V463.87H590.28V464.03H590.86V464.19H591.43V464.35H592.01V464.5H592.58V464.66H593.16V464.8H593.73V464.95H594.31V465.09H594.88V465.23H595.46V465.37H596.04V465.5H596.61V465.63H597.19V465.75H597.76V465.87H598.34V465.99H598.91V466.11H599.49V466.22H600.06V466.33H600.64V466.44H601.21V466.54H601.79V466.64H602.36V466.75H602.94V466.85H603.51V466.94H604.09V467.04H604.66V467.14H605.24V467.24H605.81V467.33H606.39V467.43H606.96V467.51H607.54V467.6H608.11V467.68H608.69V467.76H609.26V467.84H609.84V467.92H610.42V468H610.99V468.09H611.57V468.18H612.14V468.27H612.72V468.37H613.29V468.48H613.87V468.59H614.44V468.72H615.02V468.86H615.59V469.02H616.17V469.19H616.74V469.37H617.32V469.55H617.89V469.73H618.47V469.92H619.04V470.1H619.62V470.27H620.19V470.44H620.77V470.61H621.34V470.78H621.92V470.95H622.49V471.12H623.07V471.3H623.64V471.47H624.22V471.64H624.8V471.81H625.37V471.99H625.95V472.16H626.52V472.33H627.1V472.5H627.67V472.67H628.25V472.83H628.82V473H629.4V473.17H629.97V473.33H630.55V473.49H631.12V473.66H631.7V473.81H632.27V473.97H632.85V474.13H633.42V474.28H634V474.43H634.57V474.59H635.15V474.74H635.72V474.89H636.3V475.04H636.87V475.18H637.45V475.33H638.02V475.48H638.6V475.62H639.18V475.77H639.75V475.91H640.33V476.06H640.9V476.2H641.48V476.34H642.05V476.49H642.63V476.63H643.2V476.77H643.78V476.91H644.35V477.05H644.93V477.19H645.5V477.33H646.08V477.47H646.65V477.61H647.23V477.75H647.8V477.89H648.38V478.03H648.95V478.18H649.53V478.32H650.1V478.46H650.68V478.6H651.25V478.74H651.83V478.88H652.4V479.02H652.98V479.17H653.56V479.31H654.13V479.45H654.71V479.6H655.28V479.74H655.86V479.89H656.43V480.04H657.01V480.18H657.58V480.33H658.16V480.48H658.73V480.63H659.31V480.78H659.88V480.93H660.46V481.08H661.03V481.22H661.61V481.37H662.18V481.52H662.76V481.67H663.33V481.82H663.91V481.97H664.48V482.12H665.06V482.27H665.63V482.42H666.21V482.57H666.78V482.71H667.36V482.86H667.94V483.01H668.51V483.15H669.09V483.3H669.66V483.44H670.24V483.58H670.81V483.73H671.39V483.87H671.96V484.01H672.54V484.15H673.11V484.29H673.69V484.42H674.26V484.56H674.84V484.69H675.41V484.83H675.99V484.96H676.56V485.09H677.14V485.22H677.71V485.35H678.29V485.47H678.86V485.6H679.44V485.73H680.01V485.85H680.59V485.97H681.16V486.1H681.74V486.22H682.32V486.34H682.89V486.46H683.47V486.59H684.04V486.71H684.62V486.83H685.19V486.94H685.77V487.06H686.34V487.18H686.92V487.3H687.49V487.41H688.07V487.53H688.64V487.64H689.22V487.76H689.79V487.87H690.37V487.99H690.94V488.1H691.52V488.21H692.09V488.33H692.67V488.44H693.24V488.55H693.82V488.66H694.39V488.77H694.97V488.88H695.54V488.99H696.12V489.1H696.7V489.21H697.27V489.32H697.85V489.42H698.42V489.53H699V489.63H699.57V489.73H700.15V489.83H700.72V489.92H701.3V490.02H701.87V490.11H702.45V490.21H703.02V490.31H703.6V490.4H704.17V490.51H704.75V490.61H705.32V490.72H705.9V490.83H706.47V490.95H707.05V491.07H707.62V491.2H708.2V491.33H708.77V491.47H709.35V491.6H709.92V491.74H710.5V491.89H711.08V492.04H711.65V492.19H712.23V492.34H712.8V492.5H713.38V492.66H713.95V492.82H714.53V492.99H715.1V493.15H715.68V493.33H716.25V493.5H716.83V493.68H717.4V493.86H717.98V494.04H718.55V494.22H719.13V494.41H719.7V494.6H720.28V494.79H720.85V494.98H721.43V495.17H722V495.37H722.58V495.58H723.15V495.79H723.73V496.01H724.3V496.23H724.88V496.46H725.46V496.69H726.03V496.93H726.61V497.17H727.18V497.41H727.76V497.66H728.33V497.91H728.91V498.16H729.48V498.41H730.06V498.67H730.63V498.93H731.21V499.19H731.78V499.45H732.36V499.71H732.93V499.98H733.51V500.24H734.08V500.5H734.66V500.77H735.23V501.03H735.81V501.3H736.38V501.57H736.96V501.84H737.53V502.11H738.11V502.38H738.68V502.66H739.26V502.94H739.84V503.22H740.41V503.5H740.99V503.79H741.56V504.08H742.14V504.36H742.71V504.66H743.29V504.95H743.86V505.25H744.44V505.55H745.01V505.85H745.59V506.15H746.16V506.46H746.74V506.76H747.31V507.07H747.89V507.39H748.46V507.7H749.04V508.02H749.61V508.34H750.19V508.66H750.76V508.98H751.34V509.31H751.91V509.64H752.49V509.98H753.06V510.31H753.64V510.65H754.22V511H754.79V511.34H755.37V511.7H755.94V512.05H756.52V512.41H757.09V512.78H757.67V513.15H758.24V513.52H758.82V513.9H759.39V514.29H759.97V514.67H760.54V515.06H761.12V515.45H761.69V515.84H762.27V516.24H762.84V516.65H763.42V517.06H763.99V517.49H764.57V517.92H765.14V518.36H765.72V518.82H766.29V519.29H766.87V519.78H767.44V520.28H768.02V520.81H768.6V521.34H769.17V521.89H769.75V522.45H770.32V523.03H770.9V523.64H771.47V524.28H772.05V524.95H772.62V525.65H773.2V526.4H773.77V527.19H774.35V528.04H774.92V528.93H775.5V529.83H776.07V530.78H776.65V531.82H777.22V533.02H777.8V534.4H778.37V536.04H778.95V537.99H779.52V540.69H780.1V545.06H780.67V550.6H781.25V557.2H781.82V571H782.4V490Z" fill="#FFC000"/>
<line x1="494.8" y1="490" x2="782.4" y2="490" stroke="#d9d9d9" stroke-width="1"/>
<g stroke="#000" stroke-width="1.4" fill="none">
<line x1="494.8" y1="370.8" x2="494.8" y2="609.7"/>
<line x1="488.1" y1="609" x2="784.4" y2="609"/>
<line x1="488.1" y1="371.5" x2="494.8" y2="371.5"/>
<line x1="488.1" y1="411.1" x2="494.8" y2="411.1"/>
<line x1="488.1" y1="450.7" x2="494.8" y2="450.7"/>
<line x1="488.1" y1="490.2" x2="494.8" y2="490.2"/>
<line x1="488.1" y1="529.8" x2="494.8" y2="529.8"/>
<line x1="488.1" y1="569.4" x2="494.8" y2="569.4"/>
<line x1="783.7" y1="601.2" x2="783.7" y2="609"/>
<line x1="742.37" y1="601.2" x2="742.37" y2="609"/>
<line x1="701.04" y1="601.2" x2="701.04" y2="609"/>
<line x1="659.71" y1="601.2" x2="659.71" y2="609"/>
<line x1="618.38" y1="601.2" x2="618.38" y2="609"/>
<line x1="577.05" y1="601.2" x2="577.05" y2="609"/>
<line x1="535.72" y1="601.2" x2="535.72" y2="609"/>
</g>
<text x="474.9" y="378.7" font-size="21.3" text-anchor="end">0.15</text>
<text x="474.9" y="418.3" font-size="21.3" text-anchor="end">0.1</text>
<text x="474.9" y="457.9" font-size="21.3" text-anchor="end">0.05</text>
<text x="474.9" y="497.4" font-size="21.3" text-anchor="end">0</text>
<text x="474.9" y="537" font-size="21.3" text-anchor="end">-0.05</text>
<text x="474.9" y="576.6" font-size="21.3" text-anchor="end">-0.1</text>
<text x="474.9" y="616.2" font-size="21.3" text-anchor="end">-0.15</text>
<text transform="translate(501.5,623.1) rotate(-90)" font-size="20.7" text-anchor="end">1</text>
<text transform="translate(525.47,623.1) rotate(-90)" font-size="20.7" text-anchor="end">43</text>
<text transform="translate(549.44,623.1) rotate(-90)" font-size="20.7" text-anchor="end">85</text>
<text transform="translate(573.41,623.1) rotate(-90)" font-size="20.7" text-anchor="end">127</text>
<text transform="translate(597.38,623.1) rotate(-90)" font-size="20.7" text-anchor="end">169</text>
<text transform="translate(621.35,623.1) rotate(-90)" font-size="20.7" text-anchor="end">211</text>
<text transform="translate(645.32,623.1) rotate(-90)" font-size="20.7" text-anchor="end">253</text>
<text transform="translate(669.29,623.1) rotate(-90)" font-size="20.7" text-anchor="end">295</text>
<text transform="translate(693.26,623.1) rotate(-90)" font-size="20.7" text-anchor="end">337</text>
<text transform="translate(717.23,623.1) rotate(-90)" font-size="20.7" text-anchor="end">379</text>
<text transform="translate(741.2,623.1) rotate(-90)" font-size="20.7" text-anchor="end">421</text>
<text transform="translate(765.17,623.1) rotate(-90)" font-size="20.7" text-anchor="end">463</text>
<text transform="translate(420.7,490.5) rotate(-90)" font-size="25" text-anchor="middle">F1-score</text>
<text x="615.4" y="686.3" font-size="25" text-anchor="middle">ComMax - ChemTarMax</text>
<text x="629" y="722" font-size="27.6" text-anchor="middle">(d)</text>
<rect x="524" y="395.8" width="101" height="36.8" fill="#fff" stroke="#000" stroke-width="1.25"/>
<text x="574.5" y="421.6" font-size="21.5" text-anchor="middle">A=13.32</text>
<line x1="574.8" y1="432.6" x2="574.8" y2="447.9" stroke="#000" stroke-width="1.75"/>
<path d="M570.1,446.9 L579.5,446.9 L574.8,455.2Z" fill="#000"/>
<rect x="676.2" y="541.5" width="88.3" height="37.7" fill="#fff" stroke="#000" stroke-width="1.25"/>
<text x="720.35" y="567.75" font-size="21.5" text-anchor="middle">B=3.08</text>
<line x1="720.8" y1="541.5" x2="720.8" y2="514.9" stroke="#000" stroke-width="1.75"/>
<path d="M716.1,515.9 L725.5,515.9 L720.8,507.6Z" fill="#000"/>
</g>
<g id="panel-e">
<path d="M89.4,859.3V777.9H89.97V778.74H90.54V784.71H91.11V791.6H91.68V795.19H92.25V797.89H92.82V800.12H93.39V801.96H93.96V803.45H94.53V804.69H95.1V805.76H95.67V806.71H96.24V807.58H96.81V808.43H97.38V809.31H97.95V810.17H98.52V811.01H99.09V811.82H99.66V812.6H100.23V813.36H100.8V814.08H101.37V814.76H101.94V815.42H102.51V816.08H103.08V816.72H103.65V817.35H104.21V817.96H104.78V818.55H105.35V819.12H105.92V819.66H106.49V820.17H107.06V820.65H107.63V821.09H108.2V821.5H108.77V821.87H109.34V822.21H109.91V822.53H110.48V822.83H111.05V823.11H111.62V823.4H112.19V823.68H112.76V823.97H113.33V824.28H113.9V824.61H114.47V824.97H115.04V825.37H115.61V825.82H116.18V826.31H116.75V826.82H117.32V827.34H117.89V827.87H118.46V828.39H119.03V828.89H119.6V829.37H120.17V829.8H120.74V830.18H121.31V830.5H121.88V830.8H122.45V831.07H123.02V831.33H123.59V831.58H124.16V831.81H124.73V832.03H125.3V832.25H125.87V832.45H126.44V832.65H127.01V832.85H127.58V833.05H128.15V833.25H128.72V833.45H129.29V833.65H129.86V833.86H130.43V834.06H131V834.27H131.57V834.47H132.13V834.66H132.7V834.86H133.27V835.05H133.84V835.24H134.41V835.43H134.98V835.62H135.55V835.8H136.12V835.99H136.69V836.17H137.26V836.36H137.83V836.54H138.4V836.72H138.97V836.9H139.54V837.08H140.11V837.26H140.68V837.44H141.25V837.62H141.82V837.8H142.39V837.97H142.96V838.14H143.53V838.31H144.1V838.48H144.67V838.64H145.24V838.79H145.81V838.95H146.38V839.09H146.95V839.24H147.52V839.38H148.09V839.52H148.66V839.65H149.23V839.79H149.8V839.92H150.37V840.05H150.94V840.18H151.51V840.3H152.08V840.43H152.65V840.55H153.22V840.67H153.79V840.79H154.36V840.91H154.93V841.03H155.5V841.14H156.07V841.26H156.64V841.37H157.21V841.48H157.78V841.59H158.35V841.69H158.92V841.8H159.49V841.91H160.06V842.01H160.62V842.12H161.19V842.22H161.76V842.33H162.33V842.44H162.9V842.55H163.47V842.66H164.04V842.77H164.61V842.88H165.18V842.99H165.75V843.11H166.32V843.23H166.89V843.35H167.46V843.47H168.03V843.6H168.6V843.72H169.17V843.84H169.74V843.96H170.31V844.08H170.88V844.2H171.45V844.31H172.02V844.42H172.59V844.53H173.16V844.64H173.73V844.74H174.3V844.83H174.87V844.92H175.44V845H176.01V845.08H176.58V845.16H177.15V845.23H177.72V845.3H178.29V845.37H178.86V845.44H179.43V845.51H180V845.58H180.57V845.65H181.14V845.73H181.71V845.81H182.28V845.89H182.85V845.98H183.42V846.07H183.99V846.18H184.56V846.29H185.13V846.42H185.7V846.56H186.27V846.72H186.84V846.89H187.41V847.07H187.98V847.25H188.55V847.44H189.12V847.63H189.68V847.82H190.25V848H190.82V848.18H191.39V848.36H191.96V848.52H192.53V848.67H193.1V848.81H193.67V848.94H194.24V849.04H194.81V849.14H195.38V849.23H195.95V849.31H196.52V849.39H197.09V849.47H197.66V849.54H198.23V849.61H198.8V849.68H199.37V849.74H199.94V849.81H200.51V849.87H201.08V849.94H201.65V850.01H202.22V850.08H202.79V850.15H203.36V850.22H203.93V850.3H204.5V850.38H205.07V850.47H205.64V850.55H206.21V850.63H206.78V850.72H207.35V850.81H207.92V850.89H208.49V850.98H209.06V851.07H209.63V851.16H210.2V851.25H210.77V851.34H211.34V851.43H211.91V851.53H212.48V851.62H213.05V851.72H213.62V851.81H214.19V851.91H214.76V852.01H215.33V852.11H215.9V852.21H216.47V852.32H217.04V852.42H217.6V852.53H218.17V852.64H218.74V852.76H219.31V852.87H219.88V852.98H220.45V853.1H221.02V853.22H221.59V853.33H222.16V853.45H222.73V853.56H223.3V853.68H223.87V853.79H224.44V853.9H225.01V854.02H225.58V854.13H226.15V854.23H226.72V854.34H227.29V854.44H227.86V854.54H228.43V854.64H229V854.75H229.57V854.85H230.14V854.95H230.71V855.06H231.28V855.16H231.85V855.26H232.42V855.37H232.99V855.47H233.56V855.57H234.13V855.68H234.7V855.78H235.27V855.89H235.84V855.99H236.41V856.09H236.98V856.19H237.55V856.3H238.12V856.4H238.69V856.5H239.26V856.6H239.83V856.7H240.4V856.79H240.97V856.89H241.54V856.99H242.11V857.08H242.68V857.18H243.25V857.27H243.82V857.36H244.39V857.45H244.96V857.54H245.53V857.63H246.09V857.71H246.66V857.8H247.23V857.88H247.8V857.96H248.37V858.04H248.94V858.12H249.51V858.19H250.08V858.26H250.65V858.33H251.22V858.4H251.79V858.47H252.36V858.53H252.93V858.59H253.5V858.65H254.07V858.71H254.64V858.76H255.21V858.81H255.78V858.86H256.35V858.9H256.92V858.95H257.49V858.99H258.06V859.03H258.63V859.07H259.2V859.11H259.77V859.15H260.34V859.18H260.91V859.22H261.48V859.25H262.05V859.29H262.62V859.32H263.19V859.35H263.76V859.39H264.33V859.42H264.9V859.45H265.47V859.49H266.04V859.52H266.61V859.56H267.18V859.6H267.75V859.63H268.32V859.67H268.89V859.71H269.46V859.76H270.03V859.8H270.6V859.85H271.17V859.9H271.74V859.95H272.31V860H272.88V860.05H273.45V860.11H274.02V860.17H274.59V860.24H275.15V860.31H275.72V860.37H276.29V860.45H276.86V860.52H277.43V860.6H278V860.67H278.57V860.75H279.14V860.83H279.71V860.92H280.28V861H280.85V861.09H281.42V861.18H281.99V861.27H282.56V861.36H283.13V861.45H283.7V861.54H284.27V861.64H284.84V861.73H285.41V861.83H285.98V861.92H286.55V862.02H287.12V862.12H287.69V862.22H288.26V862.31H288.83V862.41H289.4V862.51H289.97V862.61H290.54V862.71H291.11V862.81H291.68V862.91H292.25V863H292.82V863.1H293.39V863.2H293.96V863.29H294.53V863.39H295.1V863.48H295.67V863.58H296.24V863.67H296.81V863.76H297.38V863.85H297.95V863.95H298.52V864.04H299.09V864.13H299.66V864.22H300.23V864.31H300.8V864.4H301.37V864.49H301.94V864.58H302.51V864.68H303.07V864.77H303.64V864.86H304.21V864.95H304.78V865.04H305.35V865.14H305.92V865.23H306.49V865.32H307.06V865.42H307.63V865.51H308.2V865.6H308.77V865.7H309.34V865.79H309.91V865.89H310.48V865.99H311.05V866.08H311.62V866.18H312.19V866.28H312.76V866.38H313.33V866.48H313.9V866.58H314.47V866.68H315.04V866.78H315.61V866.89H316.18V866.99H316.75V867.09H317.32V867.2H317.89V867.31H318.46V867.42H319.03V867.53H319.6V867.64H320.17V867.75H320.74V867.86H321.31V867.97H321.88V868.08H322.45V868.2H323.02V868.31H323.59V868.43H324.16V868.54H324.73V868.66H325.3V868.78H325.87V868.9H326.44V869.02H327.01V869.14H327.58V869.26H328.15V869.38H328.72V869.51H329.29V869.63H329.86V869.76H330.43V869.89H331V870.02H331.56V870.16H332.13V870.29H332.7V870.42H333.27V870.56H333.84V870.7H334.41V870.84H334.98V870.99H335.55V871.13H336.12V871.28H336.69V871.43H337.26V871.58H337.83V871.73H338.4V871.89H338.97V872.05H339.54V872.21H340.11V872.37H340.68V872.54H341.25V872.71H341.82V872.88H342.39V873.06H342.96V873.24H343.53V873.42H344.1V873.6H344.67V873.79H345.24V873.98H345.81V874.18H346.38V874.37H346.95V874.57H347.52V874.78H348.09V874.98H348.66V875.19H349.23V875.41H349.8V875.62H350.37V875.85H350.94V876.07H351.51V876.3H352.08V876.53H352.65V876.76H353.22V876.99H353.79V877.23H354.36V877.47H354.93V877.71H355.5V877.96H356.07V878.21H356.64V878.47H357.21V878.74H357.78V879.02H358.35V879.3H358.92V879.6H359.49V879.9H360.05V880.22H360.62V880.55H361.19V880.89H361.76V881.24H362.33V881.61H362.9V881.99H363.47V882.4H364.04V882.84H364.61V883.31H365.18V883.82H365.75V884.36H366.32V884.93H366.89V885.54H367.46V886.18H368.03V886.85H368.6V887.56H369.17V888.32H369.74V889.19H370.31V890.14H370.88V891.16H371.45V892.22H372.02V893.32H372.59V894.45H373.16V895.67H373.73V898.8H374.3V859.3Z" fill="#7030A0"/>
<line x1="89.4" y1="859.3" x2="374.3" y2="859.3" stroke="#d9d9d9" stroke-width="1"/>
<g stroke="#000" stroke-width="1.4" fill="none">
<line x1="89.4" y1="740.3" x2="89.4" y2="979.1"/>
<line x1="82.7" y1="978.4" x2="375.4" y2="978.4"/>
<line x1="82.7" y1="741" x2="89.4" y2="741"/>
<line x1="82.7" y1="780.6" x2="89.4" y2="780.6"/>
<line x1="82.7" y1="820.1" x2="89.4" y2="820.1"/>
<line x1="82.7" y1="859.7" x2="89.4" y2="859.7"/>
<line x1="82.7" y1="899.3" x2="89.4" y2="899.3"/>
<line x1="82.7" y1="938.8" x2="89.4" y2="938.8"/>
<line x1="374.7" y1="970.6" x2="374.7" y2="978.4"/>
<line x1="333.37" y1="970.6" x2="333.37" y2="978.4"/>
<line x1="292.04" y1="970.6" x2="292.04" y2="978.4"/>
<line x1="250.71" y1="970.6" x2="250.71" y2="978.4"/>
<line x1="209.38" y1="970.6" x2="209.38" y2="978.4"/>
<line x1="168.05" y1="970.6" x2="168.05" y2="978.4"/>
<line x1="126.72" y1="970.6" x2="126.72" y2="978.4"/>
</g>
<text x="69.5" y="748.2" font-size="21.3" text-anchor="end">0.15</text>
<text x="69.5" y="787.8" font-size="21.3" text-anchor="end">0.1</text>
<text x="69.5" y="827.3" font-size="21.3" text-anchor="end">0.05</text>
<text x="69.5" y="866.9" font-size="21.3" text-anchor="end">0</text>
<text x="69.5" y="906.5" font-size="21.3" text-anchor="end">-0.05</text>
<text x="69.5" y="946" font-size="21.3" text-anchor="end">-0.1</text>
<text x="69.5" y="985.6" font-size="21.3" text-anchor="end">-0.15</text>
<text transform="translate(96.1,992.7) rotate(-90)" font-size="20.7" text-anchor="end">1</text>
<text transform="translate(120.07,992.7) rotate(-90)" font-size="20.7" text-anchor="end">43</text>
<text transform="translate(144.04,992.7) rotate(-90)" font-size="20.7" text-anchor="end">85</text>
<text transform="translate(168.01,992.7) rotate(-90)" font-size="20.7" text-anchor="end">127</text>
<text transform="translate(191.98,992.7) rotate(-90)" font-size="20.7" text-anchor="end">169</text>
<text transform="translate(215.95,992.7) rotate(-90)" font-size="20.7" text-anchor="end">211</text>
<text transform="translate(239.92,992.7) rotate(-90)" font-size="20.7" text-anchor="end">253</text>
<text transform="translate(263.89,992.7) rotate(-90)" font-size="20.7" text-anchor="end">295</text>
<text transform="translate(287.86,992.7) rotate(-90)" font-size="20.7" text-anchor="end">337</text>
<text transform="translate(311.83,992.7) rotate(-90)" font-size="20.7" text-anchor="end">379</text>
<text transform="translate(335.8,992.7) rotate(-90)" font-size="20.7" text-anchor="end">421</text>
<text transform="translate(359.77,992.7) rotate(-90)" font-size="20.7" text-anchor="end">463</text>
<text transform="translate(17.7,859.5) rotate(-90)" font-size="25" text-anchor="middle">F1-score</text>
<text x="230" y="1055.9" font-size="25" text-anchor="middle">ChemTarMax - Chem</text>
<text x="242" y="1090.1" font-size="27.6" text-anchor="middle">(e)</text>
<rect x="114.5" y="759.9" width="89.8" height="37.7" fill="#fff" stroke="#000" stroke-width="1.25"/>
<text x="159.4" y="786.15" font-size="21.5" text-anchor="middle">A=7.18</text>
<line x1="159.9" y1="797.6" x2="159.9" y2="828.4" stroke="#000" stroke-width="1.75"/>
<path d="M155.2,827.4 L164.6,827.4 L159.9,835.7Z" fill="#000"/>
<rect x="269.7" y="911.5" width="77" height="38.2" fill="#fff" stroke="#000" stroke-width="1.25"/>
<text x="308.2" y="938" font-size="21.5" text-anchor="middle">B=2.4</text>
<line x1="308.5" y1="911.5" x2="308.5" y2="876.5" stroke="#000" stroke-width="1.75"/>
<path d="M303.8,877.5 L313.2,877.5 L308.5,869.2Z" fill="#000"/>
</g>
<g id="panel-f">
<path d="M494.8,859.3V774.69H495.38V775.19H495.95V776.46H496.53V778.33H497.1V780.57H497.68V784.84H498.25V790.15H498.83V791.73H499.4V792.71H499.98V793.45H500.55V794.05H501.13V794.61H501.7V795.1H502.28V795.52H502.85V795.95H503.43V796.4H504V796.85H504.58V797.28H505.15V797.71H505.73V798.14H506.3V798.58H506.88V799.02H507.45V799.48H508.03V799.96H508.6V800.46H509.18V800.98H509.76V801.54H510.33V802.15H510.91V802.81H511.48V803.51H512.06V804.25H512.63V805.01H513.21V805.78H513.78V806.56H514.36V807.33H514.93V808.09H515.51V808.84H516.08V809.54H516.66V810.23H517.23V810.92H517.81V811.6H518.38V812.29H518.96V812.97H519.53V813.64H520.11V814.29H520.68V814.93H521.26V815.55H521.83V816.15H522.41V816.72H522.98V817.26H523.56V817.8H524.14V818.33H524.71V818.85H525.29V819.33H525.86V819.78H526.44V820.17H527.01V820.5H527.59V820.77H528.16V821H528.74V821.21H529.31V821.39H529.89V821.56H530.46V821.73H531.04V821.91H531.61V822.1H532.19V822.32H532.76V822.58H533.34V822.88H533.91V823.24H534.49V823.65H535.06V824.09H535.64V824.56H536.21V825.04H536.79V825.53H537.36V826.02H537.94V826.5H538.52V826.95H539.09V827.38H539.67V827.77H540.24V828.15H540.82V828.54H541.39V828.92H541.97V829.29H542.54V829.65H543.12V830.01H543.69V830.34H544.27V830.66H544.84V830.96H545.42V831.24H545.99V831.49H546.57V831.72H547.14V831.93H547.72V832.13H548.29V832.32H548.87V832.49H549.44V832.66H550.02V832.82H550.59V832.98H551.17V833.13H551.74V833.29H552.32V833.44H552.9V833.59H553.47V833.75H554.05V833.91H554.62V834.08H555.2V834.26H555.77V834.45H556.35V834.65H556.92V834.86H557.5V835.08H558.07V835.31H558.65V835.54H559.22V835.77H559.8V836.01H560.37V836.25H560.95V836.49H561.52V836.73H562.1V836.97H562.67V837.2H563.25V837.43H563.82V837.65H564.4V837.87H564.97V838.09H565.55V838.3H566.12V838.52H566.7V838.74H567.28V838.96H567.85V839.17H568.43V839.38H569V839.59H569.58V839.79H570.15V839.99H570.73V840.17H571.3V840.35H571.88V840.52H572.45V840.68H573.03V840.83H573.6V840.98H574.18V841.11H574.75V841.24H575.33V841.37H575.9V841.49H576.48V841.6H577.05V841.72H577.63V841.83H578.2V841.94H578.78V842.05H579.35V842.17H579.93V842.28H580.5V842.39H581.08V842.51H581.66V842.63H582.23V842.76H582.81V842.89H583.38V843.03H583.96V843.17H584.53V843.32H585.11V843.47H585.68V843.62H586.26V843.77H586.83V843.92H587.41V844.06H587.98V844.21H588.56V844.35H589.13V844.48H589.71V844.6H590.28V844.72H590.86V844.83H591.43V844.92H592.01V845.01H592.58V845.09H593.16V845.16H593.73V845.23H594.31V845.29H594.88V845.35H595.46V845.42H596.04V845.49H596.61V845.56H597.19V845.63H597.76V845.72H598.34V845.81H598.91V845.91H599.49V846.03H600.06V846.16H600.64V846.35H601.21V846.59H601.79V846.86H602.36V847.18H602.94V847.51H603.51V847.86H604.09V848.22H604.66V848.57H605.24V848.91H605.81V849.23H606.39V849.52H606.96V849.77H607.54V849.98H608.11V850.16H608.69V850.34H609.26V850.51H609.84V850.68H610.42V850.83H610.99V850.98H611.57V851.12H612.14V851.25H612.72V851.37H613.29V851.48H613.87V851.59H614.44V851.69H615.02V851.78H615.59V851.87H616.17V851.95H616.74V852.02H617.32V852.1H617.89V852.17H618.47V852.24H619.04V852.31H619.62V852.39H620.19V852.46H620.77V852.54H621.34V852.61H621.92V852.68H622.49V852.74H623.07V852.81H623.64V852.88H624.22V852.95H624.8V853.02H625.37V853.1H625.95V853.17H626.52V853.25H627.1V853.34H627.67V853.42H628.25V853.52H628.82V853.62H629.4V853.72H629.97V853.83H630.55V853.94H631.12V854.06H631.7V854.17H632.27V854.3H632.85V854.42H633.42V854.55H634V854.68H634.57V854.82H635.15V854.95H635.72V855.09H636.3V855.23H636.87V855.37H637.45V855.52H638.02V855.66H638.6V855.8H639.18V855.95H639.75V856.09H640.33V856.24H640.9V856.38H641.48V856.53H642.05V856.67H642.63V856.81H643.2V856.95H643.78V857.09H644.35V857.23H644.93V857.37H645.5V857.5H646.08V857.63H646.65V857.76H647.23V857.89H647.8V858.01H648.38V858.13H648.95V858.24H649.53V858.35H650.1V858.46H650.68V858.56H651.25V858.66H651.83V858.75H652.4V858.83H652.98V858.91H653.56V858.99H654.13V859.07H654.71V859.14H655.28V859.22H655.86V859.29H656.43V859.37H657.01V859.44H657.58V859.52H658.16V859.61H658.73V859.7H659.31V859.79H659.88V859.89H660.46V860H661.03V860.12H661.61V860.24H662.18V860.37H662.76V860.51H663.33V860.65H663.91V860.79H664.48V860.94H665.06V861.1H665.63V861.26H666.21V861.42H666.78V861.58H667.36V861.75H667.94V861.92H668.51V862.1H669.09V862.27H669.66V862.45H670.24V862.63H670.81V862.81H671.39V862.99H671.96V863.17H672.54V863.35H673.11V863.53H673.69V863.71H674.26V863.89H674.84V864.07H675.41V864.24H675.99V864.41H676.56V864.59H677.14V864.76H677.71V864.93H678.29V865.1H678.86V865.27H679.44V865.44H680.01V865.61H680.59V865.78H681.16V865.96H681.74V866.13H682.32V866.31H682.89V866.48H683.47V866.66H684.04V866.83H684.62V867.01H685.19V867.19H685.77V867.37H686.34V867.54H686.92V867.72H687.49V867.9H688.07V868.08H688.64V868.26H689.22V868.44H689.79V868.63H690.37V868.81H690.94V868.99H691.52V869.17H692.09V869.36H692.67V869.54H693.24V869.72H693.82V869.91H694.39V870.09H694.97V870.28H695.54V870.47H696.12V870.67H696.7V870.87H697.27V871.08H697.85V871.28H698.42V871.49H699V871.7H699.57V871.91H700.15V872.12H700.72V872.33H701.3V872.53H701.87V872.74H702.45V872.94H703.02V873.14H703.6V873.34H704.17V873.53H704.75V873.72H705.32V873.9H705.9V874.07H706.47V874.24H707.05V874.4H707.62V874.55H708.2V874.7H708.77V874.83H709.35V874.96H709.92V875.09H710.5V875.21H711.08V875.32H711.65V875.43H712.23V875.54H712.8V875.65H713.38V875.75H713.95V875.85H714.53V875.95H715.1V876.06H715.68V876.16H716.25V876.26H716.83V876.37H717.4V876.48H717.98V876.59H718.55V876.7H719.13V876.82H719.7V876.95H720.28V877.08H720.85V877.21H721.43V877.35H722V877.5H722.58V877.66H723.15V877.82H723.73V877.98H724.3V878.15H724.88V878.33H725.46V878.5H726.03V878.69H726.61V878.87H727.18V879.06H727.76V879.26H728.33V879.45H728.91V879.65H729.48V879.85H730.06V880.06H730.63V880.27H731.21V880.47H731.78V880.68H732.36V880.9H732.93V881.11H733.51V881.32H734.08V881.54H734.66V881.75H735.23V881.97H735.81V882.19H736.38V882.42H736.96V882.65H737.53V882.88H738.11V883.11H738.68V883.35H739.26V883.59H739.84V883.83H740.41V884.08H740.99V884.32H741.56V884.58H742.14V884.83H742.71V885.08H743.29V885.34H743.86V885.6H744.44V885.87H745.01V886.13H745.59V886.4H746.16V886.67H746.74V886.94H747.31V887.21H747.89V887.49H748.46V887.77H749.04V888.04H749.61V888.32H750.19V888.6H750.76V888.89H751.34V889.18H751.91V889.47H752.49V889.76H753.06V890.06H753.64V890.36H754.22V890.66H754.79V890.97H755.37V891.29H755.94V891.61H756.52V891.94H757.09V892.27H757.67V892.61H758.24V892.96H758.82V893.31H759.39V893.68H759.97V894.05H760.54V894.42H761.12V894.8H761.69V895.19H762.27V895.59H762.84V896H763.42V896.42H763.99V896.85H764.57V897.29H765.14V897.74H765.72V898.2H766.29V898.68H766.87V899.18H767.44V899.68H768.02V900.21H768.6V900.74H769.17V901.28H769.75V901.83H770.32V902.41H770.9V903H771.47V903.63H772.05V904.29H772.62V905H773.2V905.75H773.77V906.55H774.35V907.42H774.92V908.35H775.5V909.39H776.07V910.55H776.65V911.86H777.22V913.34H777.8V915H778.37V916.87H778.95V919.07H779.52V921.83H780.1V925.22H780.67V929.4H781.25V935.35H781.82V947H782.4V859.3Z" fill="#7030A0"/>
<line x1="494.8" y1="859.3" x2="782.4" y2="859.3" stroke="#d9d9d9" stroke-width="1"/>
<g stroke="#000" stroke-width="1.4" fill="none">
<line x1="494.8" y1="740.8" x2="494.8" y2="979.4"/>
<line x1="488.1" y1="978.7" x2="784.4" y2="978.7"/>
<line x1="488.1" y1="746.4" x2="494.8" y2="746.4"/>
<line x1="488.1" y1="772.2" x2="494.8" y2="772.2"/>
<line x1="488.1" y1="798" x2="494.8" y2="798"/>
<line x1="488.1" y1="823.8" x2="494.8" y2="823.8"/>
<line x1="488.1" y1="849.6" x2="494.8" y2="849.6"/>
<line x1="488.1" y1="875.5" x2="494.8" y2="875.5"/>
<line x1="488.1" y1="901.3" x2="494.8" y2="901.3"/>
<line x1="488.1" y1="927.1" x2="494.8" y2="927.1"/>
<line x1="488.1" y1="952.9" x2="494.8" y2="952.9"/>
<line x1="783.7" y1="970.9" x2="783.7" y2="978.7"/>
<line x1="742.37" y1="970.9" x2="742.37" y2="978.7"/>
<line x1="701.04" y1="970.9" x2="701.04" y2="978.7"/>
<line x1="659.71" y1="970.9" x2="659.71" y2="978.7"/>
<line x1="618.38" y1="970.9" x2="618.38" y2="978.7"/>
<line x1="577.05" y1="970.9" x2="577.05" y2="978.7"/>
<line x1="535.72" y1="970.9" x2="535.72" y2="978.7"/>
</g>
<text x="474.9" y="753.6" font-size="21.3" text-anchor="end">0.22</text>
<text x="474.9" y="779.4" font-size="21.3" text-anchor="end">0.17</text>
<text x="474.9" y="805.2" font-size="21.3" text-anchor="end">0.12</text>
<text x="474.9" y="831" font-size="21.3" text-anchor="end">0.07</text>
<text x="474.9" y="856.8" font-size="21.3" text-anchor="end">0.02</text>
<text x="474.9" y="882.7" font-size="21.3" text-anchor="end">-0.03</text>
<text x="474.9" y="908.5" font-size="21.3" text-anchor="end">-0.08</text>
<text x="474.9" y="934.3" font-size="21.3" text-anchor="end">-0.13</text>
<text x="474.9" y="960.1" font-size="21.3" text-anchor="end">-0.18</text>
<text x="474.9" y="985.9" font-size="21.3" text-anchor="end">-0.23</text>
<text transform="translate(501.5,992.7) rotate(-90)" font-size="20.7" text-anchor="end">1</text>
<text transform="translate(525.47,992.7) rotate(-90)" font-size="20.7" text-anchor="end">43</text>
<text transform="translate(549.44,992.7) rotate(-90)" font-size="20.7" text-anchor="end">85</text>
<text transform="translate(573.41,992.7) rotate(-90)" font-size="20.7" text-anchor="end">127</text>
<text transform="translate(597.38,992.7) rotate(-90)" font-size="20.7" text-anchor="end">169</text>
<text transform="translate(621.35,992.7) rotate(-90)" font-size="20.7" text-anchor="end">211</text>
<text transform="translate(645.32,992.7) rotate(-90)" font-size="20.7" text-anchor="end">253</text>
<text transform="translate(669.29,992.7) rotate(-90)" font-size="20.7" text-anchor="end">295</text>
<text transform="translate(693.26,992.7) rotate(-90)" font-size="20.7" text-anchor="end">337</text>
<text transform="translate(717.23,992.7) rotate(-90)" font-size="20.7" text-anchor="end">379</text>
<text transform="translate(741.2,992.7) rotate(-90)" font-size="20.7" text-anchor="end">421</text>
<text transform="translate(765.17,992.7) rotate(-90)" font-size="20.7" text-anchor="end">463</text>
<text transform="translate(420.7,859.7) rotate(-90)" font-size="25" text-anchor="middle">F1-score</text>
<text x="632" y="1055.6" font-size="25" text-anchor="middle">ChemTarMax - Tar</text>
<text x="629" y="1089.9" font-size="27.6" text-anchor="middle">(f)</text>
<rect x="524" y="759.9" width="101" height="37.8" fill="#fff" stroke="#000" stroke-width="1.25"/>
<text x="574.5" y="786.2" font-size="21.5" text-anchor="middle">A=13.51</text>
<line x1="574.8" y1="797.7" x2="574.8" y2="828.4" stroke="#000" stroke-width="1.75"/>
<path d="M570.1,827.4 L579.5,827.4 L574.8,835.7Z" fill="#000"/>
<rect x="676.2" y="911.4" width="88.3" height="38.3" fill="#fff" stroke="#000" stroke-width="1.25"/>
<text x="720.35" y="937.95" font-size="21.5" text-anchor="middle">B=8.34</text>
<line x1="720.8" y1="911.4" x2="720.8" y2="891.1" stroke="#000" stroke-width="1.75"/>
<path d="M716.1,892.1 L725.5,892.1 L720.8,883.8Z" fill="#000"/>
</g>
</svg>
</body></html>
